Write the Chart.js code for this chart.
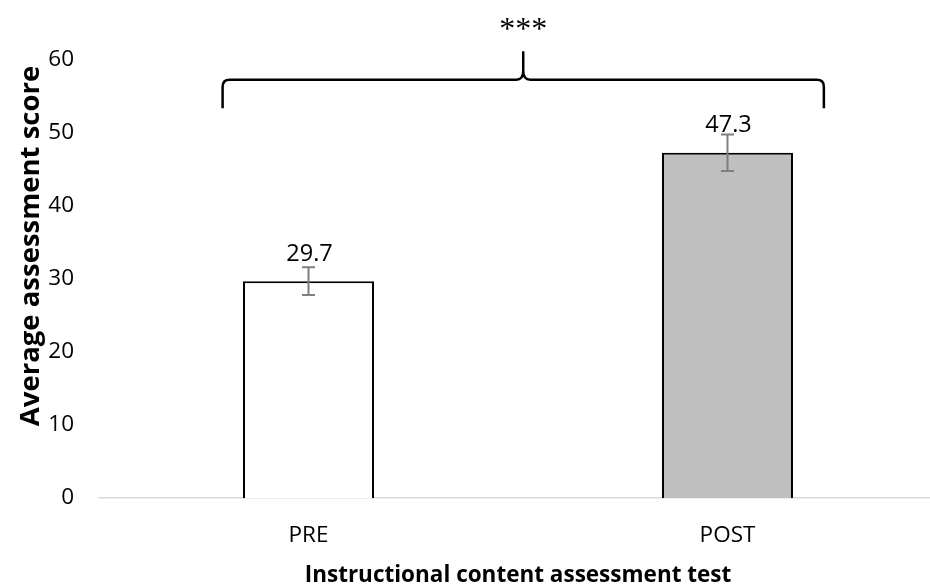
<!DOCTYPE html>
<html>
<head>
<meta charset="utf-8">
<script src="https://cdn.jsdelivr.net/npm/chart.js@4.4.1/dist/chart.umd.min.js"></script>
<style>
  html, body { margin: 0; padding: 0; background: #fff; overflow: hidden; }
  #wrap { width: 937px; height: 588px; }
</style>
</head>
<body>
<div id="wrap"><canvas id="c" width="937" height="588"></canvas></div>
<script>
// ---- data ----
const categories = ['PRE', 'POST'];
const means = [29.7, 47.3];
const errors = [1.9, 2.5];
const valueLabels = ['29.7', '47.3'];
const yTicks = [0, 10, 20, 30, 40, 50, 60];
const yTitle = 'Average assessment score';
const xTitle = 'Instructional content assessment test';
const significance = '***';
// bracket levels in axis units
const bracketLevels = { end: 53.4, line: 57.3, peak: 61.2, text: 65.0 };

const FONT = '"Open Sans"';

const overlayPlugin = {
  id: 'overlay',
  afterDatasetsDraw(chart) {
    const ctx = chart.ctx;
    const x = chart.scales.x, y = chart.scales.y;
    const meta = chart.getDatasetMeta(0);
    ctx.save();
    // error bars
    ctx.strokeStyle = '#7f7f7f';
    ctx.lineWidth = 2;
    meta.data.forEach((bar, i) => {
      const cx = bar.x;
      const top = y.getPixelForValue(means[i] + errors[i]);
      const bot = y.getPixelForValue(means[i] - errors[i]);
      const cap = 6.5;
      ctx.beginPath();
      ctx.moveTo(cx, top); ctx.lineTo(cx, bot);
      ctx.moveTo(cx - cap, top); ctx.lineTo(cx + cap, top);
      ctx.moveTo(cx - cap, bot); ctx.lineTo(cx + cap, bot);
      ctx.stroke();
    });
    // value labels (glyphs centred 29px above bar top)
    ctx.fillStyle = '#000';
    ctx.font = '23.5px ' + FONT;
    ctx.textAlign = 'center';
    ctx.textBaseline = 'alphabetic';
    meta.data.forEach((bar, i) => {
      const m = ctx.measureText(valueLabels[i]);
      const c = bar.y - 29;
      ctx.fillText(valueLabels[i], bar.x + 1, c + (m.actualBoundingBoxAscent - m.actualBoundingBoxDescent) / 2);
    });
    // bracket
    const spacing = x.getPixelForValue(1) - x.getPixelForValue(0);
    const left = x.getPixelForValue(0) - 0.205 * spacing;
    const right = x.getPixelForValue(1) + 0.23 * spacing;
    const mid = (left + right) / 2;
    const yEnd = y.getPixelForValue(bracketLevels.end);
    const yLine = y.getPixelForValue(bracketLevels.line);
    const yPeak = y.getPixelForValue(bracketLevels.peak);
    const r = 7;
    ctx.strokeStyle = '#000';
    ctx.lineWidth = 2.5;
    ctx.lineJoin = 'round';
    ctx.beginPath();
    ctx.moveTo(left, yEnd);
    ctx.lineTo(left, yLine + r);
    ctx.quadraticCurveTo(left, yLine, left + r, yLine);
    ctx.lineTo(mid - 7, yLine);
    ctx.quadraticCurveTo(mid, yLine, mid, yLine - 9);
    ctx.lineTo(mid, yPeak);
    ctx.moveTo(mid, yLine - 9);
    ctx.quadraticCurveTo(mid, yLine, mid + 7, yLine);
    ctx.lineTo(right - r, yLine);
    ctx.quadraticCurveTo(right, yLine, right, yLine + r);
    ctx.lineTo(right, yEnd);
    ctx.stroke();
    // significance stars
    ctx.font = '32px "Liberation Serif"';
    const m = ctx.measureText(significance);
    const ty = y.getPixelForValue(bracketLevels.text);
    ctx.textBaseline = 'alphabetic';
    const base = ty + (m.actualBoundingBoxAscent - m.actualBoundingBoxDescent) / 2;
    ctx.fillText(significance, mid, base);

    // y axis title (rotated, baseline 39px from left, centred slightly above plot middle)
    const ca = chart.chartArea;
    ctx.save();
    ctx.translate(39, (ca.top + ca.bottom) / 2 - 33);
    ctx.rotate(-Math.PI / 2);
    ctx.font = 'bold 27.5px ' + FONT;
    ctx.textAlign = 'center';
    ctx.textBaseline = 'alphabetic';
    ctx.fillText(yTitle, 0, 0);
    ctx.restore();
    ctx.restore();
  }
};

new Chart(document.getElementById('c'), {
  type: 'bar',
  data: {
    labels: categories,
    datasets: [{
      data: means,
      backgroundColor: ['#ffffff', '#bfbfbf'],
      borderColor: '#000000',
      borderWidth: 2,
      barPercentage: 0.3126,
      categoryPercentage: 1.0
    }]
  },
  options: {
    responsive: false,
    animation: false,
    devicePixelRatio: 1,
    layout: { padding: { top: 60, left: 0, right: 0, bottom: 0 } },
    plugins: { legend: { display: false }, tooltip: { enabled: false } },
    scales: {
      x: {
        offset: true,
        afterFit(s) { s.height = 90; },
        grid: { display: false, drawTicks: false },
        border: { display: true, color: '#d9d9d9', width: 1.5 },
        ticks: { color: '#000', font: { family: FONT, size: 22.5 }, padding: 24 },
        title: {
          display: true,
          text: xTitle,
          color: '#000',
          font: { family: FONT, size: 22.5, weight: 'bold', lineHeight: 1 },
          padding: { top: 0, bottom: 1 }
        }
      },
      y: {
        min: 0, max: 60,
        afterFit(s) { s.width = 99; },
        afterBuildTicks(s) { s.ticks = yTicks.map(v => ({ value: v })); },
        grid: { display: false, drawTicks: false },
        border: { display: false },
        ticks: { color: '#000', font: { family: FONT, size: 22.5 }, padding: 25 },
        title: { display: false }
      }
    }
  },
  plugins: [overlayPlugin]
});
</script>
</body>
</html>
